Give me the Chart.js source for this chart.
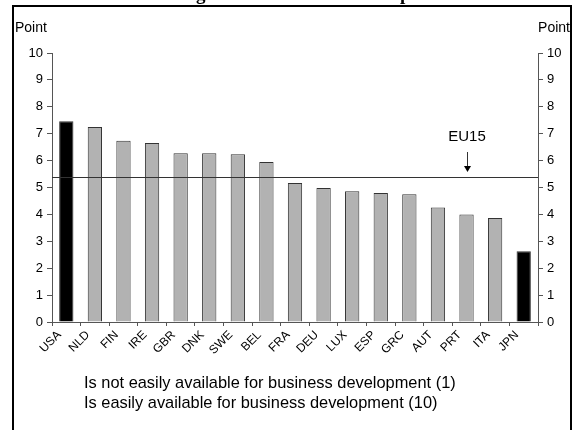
<!DOCTYPE html>
<html><head><meta charset="utf-8">
<script src="https://cdn.jsdelivr.net/npm/chart.js@4.4.0/dist/chart.umd.min.js"></script>
<style>html,body{margin:0;padding:0;background:#fff;}#wrap{width:584px;height:430px;position:relative;}</style>
</head><body><div id="wrap"><canvas id="c" width="584" height="430"></canvas></div>
<script>
const categories = ["USA","NLD","FIN","IRE","GBR","DNK","SWE","BEL","FRA","DEU","LUX","ESP","GRC","AUT","PRT","ITA","JPN"];
const values = [7.46,7.25,6.74,6.65,6.27,6.27,6.24,5.95,5.17,4.98,4.86,4.80,4.75,4.26,4.00,3.87,2.63];
const highlighted = ["USA","JPN"];
const eu15 = 5.40;
const yTicks = [0,1,2,3,4,5,6,7,8,9,10];
const noteLines = ["Is not easily available for business development (1)","Is easily available for business development (10)"];

const FONT = "'Liberation Sans', Arial, sans-serif";
const AX = '#555555';

const deco = {
  id:'deco',
  afterDraw(chart){
    const ctx = chart.ctx, a = chart.chartArea, y = chart.scales.y;
    ctx.save();
    ctx.fillStyle = '#000';
    ctx.font = "bold 19px 'Liberation Serif', 'Times New Roman', serif";
    ctx.textBaseline = 'alphabetic';
    ctx.fillText('g', 196, 0);
    ctx.fillText('p', 400, 0);
    ctx.strokeStyle = '#000'; ctx.lineWidth = 2;
    ctx.beginPath();
    ctx.moveTo(13, 431); ctx.lineTo(13, 6); ctx.lineTo(571, 6); ctx.lineTo(571, 431);
    ctx.stroke();
    ctx.font = "14px " + FONT; ctx.fillStyle = '#000'; ctx.textBaseline = 'middle';
    ctx.textAlign = 'left'; ctx.fillText('Point', 15, 28);
    ctx.textAlign = 'right'; ctx.fillText('Point', 570, 28);
    const ye = Math.round(y.getPixelForValue(eu15)) + 0.5;
    ctx.strokeStyle = '#333'; ctx.lineWidth = 1;
    ctx.beginPath(); ctx.moveTo(a.left, ye); ctx.lineTo(a.right, ye); ctx.stroke();
    ctx.font = "15px " + FONT; ctx.textAlign = 'center'; ctx.textBaseline = 'middle';
    ctx.fillText('EU15', 467, 137);
    ctx.beginPath(); ctx.moveTo(467.5, 152); ctx.lineTo(467.5, 167); ctx.stroke();
    ctx.beginPath(); ctx.moveTo(464, 166); ctx.lineTo(471, 166); ctx.lineTo(467.5, 172); ctx.closePath(); ctx.fill();
    ctx.font = "16.4px " + FONT; ctx.textAlign = 'left'; ctx.textBaseline = 'middle';
    ctx.fillText(noteLines[0], 84, 383);
    ctx.fillText(noteLines[1], 84, 403);
    ctx.restore();
  }
};

new Chart(document.getElementById('c'), {
  type:'bar',
  data:{ labels: categories, datasets:[{
    data: values,
    backgroundColor: categories.map(c => highlighted.includes(c) ? '#000000' : '#b2b2b2'),
    borderColor: '#333', borderWidth: 1,
    categoryPercentage: 1.0, barPercentage: 0.5
  }]},
  options:{
    responsive:false, animation:false, devicePixelRatio:1,
    layout:{ padding:{ top:53, left:0, right:0, bottom:0 } },
    plugins:{ legend:{display:false}, tooltip:{enabled:false} },
    scales:{
      x:{
        grid:{ drawOnChartArea:false, drawTicks:true, tickLength:4, color:AX, offset:true },
        border:{ color:AX },
        ticks:{ minRotation:45, maxRotation:45, color:'#000', font:{ family:FONT, size:12 }, padding:2, labelOffset:-7 },
        afterFit(s){ s.height = 108; }
      },
      y:{
        position:'left', min:0, max:10,
        afterBuildTicks(s){ s.ticks = yTicks.map(v=>({value:v})); },
        grid:{ drawOnChartArea:false, drawTicks:true, tickLength:5, color:AX },
        border:{ color:AX },
        ticks:{ color:'#000', font:{ family:FONT, size:13 }, padding:4 },
        afterFit(s){ s.width = 52; }
      },
      y2:{
        position:'right', min:0, max:10,
        afterBuildTicks(s){ s.ticks = yTicks.map(v=>({value:v})); },
        grid:{ drawOnChartArea:false, drawTicks:true, tickLength:5, color:AX },
        border:{ color:AX },
        ticks:{ color:'#000', font:{ family:FONT, size:13 }, padding:4 },
        afterFit(s){ s.width = 46; }
      }
    }
  },
  plugins:[deco]
});
</script></body></html>
